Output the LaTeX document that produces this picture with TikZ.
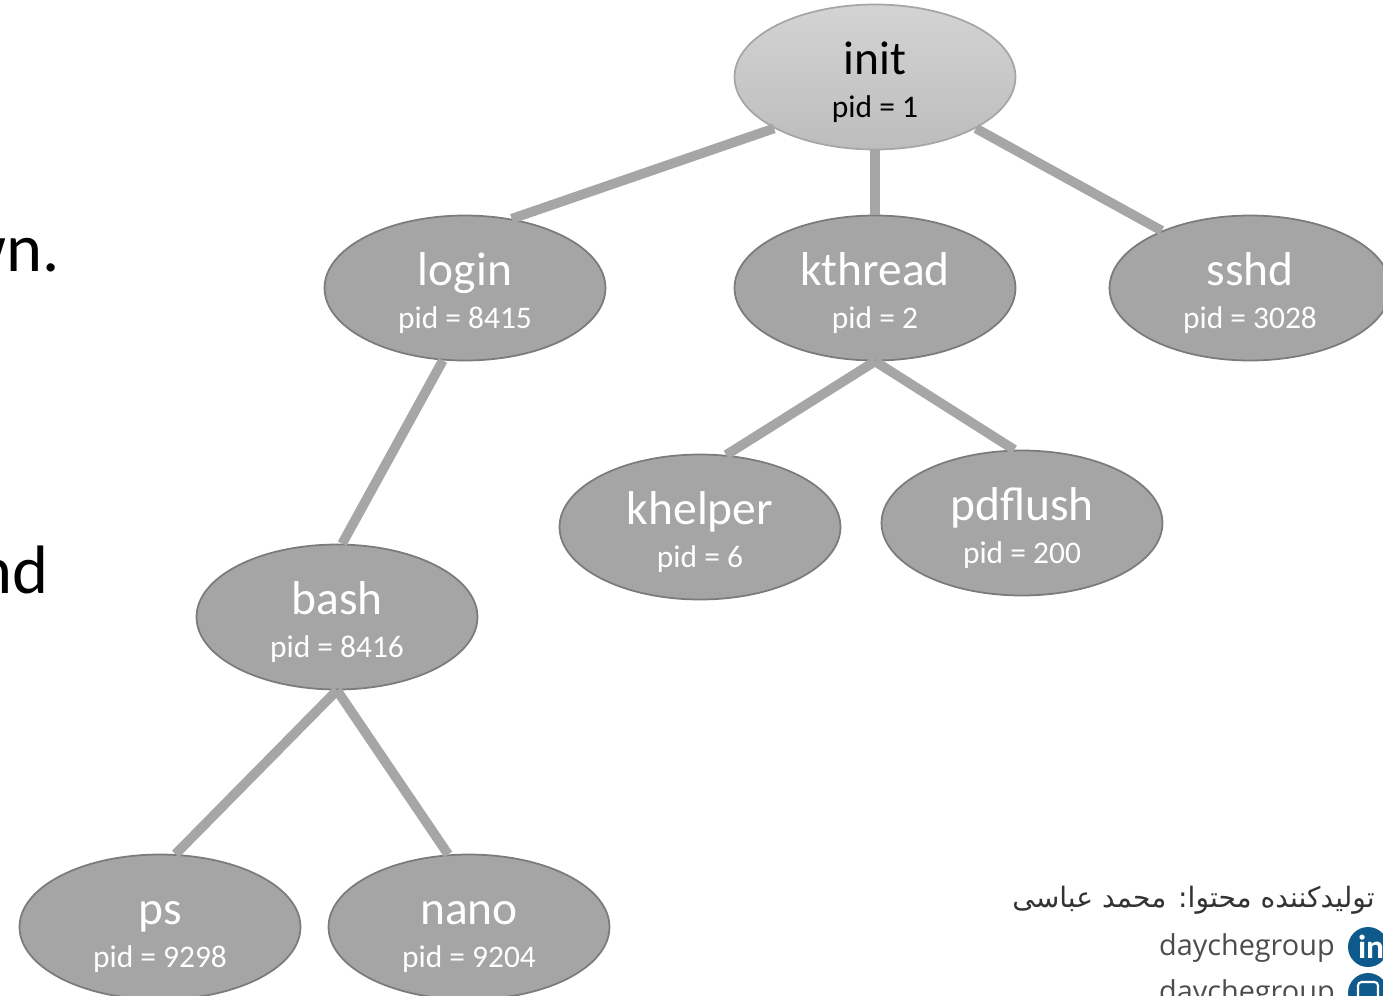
\documentclass[tikz,border=0pt]{standalone}
\usepackage{fontspec}
\setmainfont{Carlito}
\newfontfamily\arabicfont[Script=Arabic]{DejaVu Sans}
\newfontfamily\handlefont{Open Sans}
\TeXXeTstate=1
\usetikzlibrary{
    shapes.geometric
}
\definecolor{nodegray}{HTML}{A5A5A5}
\definecolor{edgegray}{HTML}{A6A6A6}
\definecolor{rimgray}{HTML}{7B7B7B}
\definecolor{iconblue}{HTML}{0F5A8C}
\newcommand{\proclabel}[2]{\smash{\makebox[0pt]{\raisebox{1.7pt}{\fontsize{27}{29}\selectfont #1}}\makebox[0pt]{\raisebox{-22.8pt}{\fontsize{17.9}{20}\selectfont pid = #2}}}}
\tikzset{
    proc/.style={ellipse, draw=rimgray, line width=1pt, fill=nodegray, text=white,
        minimum width=5.62cm, minimum height=2.9cm, inner sep=0pt},
    rootproc/.style={proc, draw=edgegray, text=black, fill=none, top color=black!17, bottom color=black!26},
    link/.style={draw=edgegray, line width=5.5pt},
    cut/.style={font=\fontsize{39}{43}\selectfont, anchor=base east, inner sep=0pt},
    handle/.style={anchor=base east, text=black!70, inner sep=0pt, font=\handlefont\fontsize{16.4}{18}\selectfont},
    icon/.style={circle, fill=iconblue, minimum size=0.8cm, inner sep=0pt}
}
\begin{document}
\begin{tikzpicture}[x=0.02cm, y=-0.02cm]
    \useasboundingbox (0, 0) rectangle (1383, 995);
    \node[proc] (login) at (465, 288) {\proclabel{login}{8415}};
    \node[proc] (kthread) at (875, 288) {\proclabel{kthread}{2}};
    \node[proc] (sshd) at (1250, 288) {\proclabel{sshd}{3028}};
    \node[proc] (khelper) at (700, 527) {\proclabel{khelper}{6}};
    \node[proc] (pdflush) at (1022, 523) {\proclabel{pdflush}{200}};
    \node[proc] (bash) at (337, 617) {\proclabel{bash}{8416}};
    \node[proc] (ps) at (160, 927) {\proclabel{ps}{9298}};
    \node[proc] (nano) at (469, 927) {\proclabel{nano}{9204}};
    \node[rootproc] (init) at (875, 77) {\proclabel{init}{1}};
    \path[link]
    (init.207) edge (login.56)
    (init.270) edge (kthread.90)
    (init.333) edge (sshd.147)
    (login.253) edge (bash.86)
    (kthread.270) edge (khelper.70)
    (kthread.270) edge (pdflush.96)
    (bash.270) edge (ps.78)
    (bash.270) edge (nano.106);
    \node[cut] (frag1) at (60, 271) {wn.};
    \node[cut] (frag2) at (49, 593) {nd};
    \node[anchor=base west, text=black!80, inner sep=0pt, font=\arabicfont\fontsize{16}{18}\selectfont] (author) at (1012, 907) {\beginR تولیدکننده محتوا: محمد عباسی\endR};
    \node[handle] (handle1) at (1335, 955) {daychegroup};
    \node[handle] (handle2) at (1335, 1001) {daychegroup};
    \node[icon, text=white, font=\bfseries\fontsize{19}{19}\selectfont] (linkedin) at (1368, 947) {\makebox[0pt][l]{\hspace*{-5.7pt}in}};
    \node[icon] (instagram) at (1368, 993) {};
    \draw[white, line width=1.2pt, rounded corners=2pt] ([shift={(-10, -11)}]instagram.center) rectangle ([shift={(10, 9)}]instagram.center);
\end{tikzpicture}
\end{document}
